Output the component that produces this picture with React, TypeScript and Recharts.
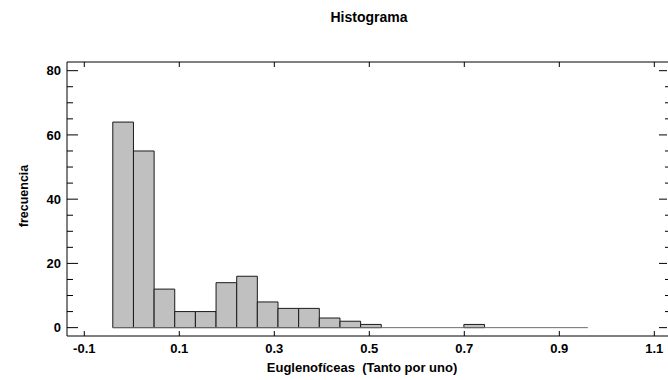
import React from 'react';
import { ComposedChart, XAxis, YAxis, Line, ReferenceArea, ReferenceLine } from 'recharts';

// Histogram bin edges (Euglenofíceas, tanto por uno) and counts
const binEdges = [
  -0.04, 0.0035, 0.047, 0.0904, 0.1339, 0.1774, 0.2209, 0.2643, 0.3078, 0.3513, 0.3948, 0.4383,
  0.4817, 0.5252, 0.5687, 0.6122, 0.6557, 0.6991, 0.7426, 0.7861, 0.8296, 0.873, 0.9165, 0.96,
];
const binCounts = [64, 55, 12, 5, 5, 14, 16, 8, 6, 6, 3, 2, 1, 0, 0, 0, 0, 1, 0, 0, 0, 0, 0];

const xTicks = [-0.1, 0.1, 0.3, 0.5, 0.7, 0.9, 1.1];
const yMajorTicks = [0, 20, 40, 60, 80];
const yMinorTicks = [5, 10, 15, 25, 30, 35, 45, 50, 55, 65, 70, 75];

const xDomain = [-0.1364, 1.1288];
const yDomain = [-2.6, 82.7];

const title = 'Histograma';
const xLabel = 'Euglenofíceas  (Tanto por uno)';
const yLabel = 'frecuencia';

const rows = binCounts.map((c, i) => ({
  lo: binEdges[i],
  hi: binEdges[i + 1],
  mid: (binEdges[i] + binEdges[i + 1]) / 2,
  count: c,
}));

const FONT = '"Liberation Sans", Arial, Helvetica, sans-serif';
const tickStyle = { fill: '#000', fontSize: 13, fontWeight: 'bold' as const, fontFamily: FONT };
const blank = () => '';

export default function App() {
  return (
    <div style={{ position: 'absolute', left: 0, top: 0, width: 668, height: 380, background: '#fff' }}>
      <ComposedChart
        width={668}
        height={380}
        data={rows}
        margin={{ top: 62, right: 0, bottom: 0, left: 0 }}
      >
        <XAxis
          xAxisId="bottom"
          type="number"
          dataKey="mid"
          domain={xDomain}
          allowDataOverflow
          ticks={xTicks}
          orientation="bottom"
          height={44}
          tickSize={-5}
          tickMargin={13}
          stroke="#000"
          tick={tickStyle}
          interval={0}
        />
        <XAxis
          xAxisId="top"
          type="number"
          dataKey="mid"
          domain={xDomain}
          allowDataOverflow
          ticks={xTicks}
          orientation="top"
          mirror
          height={30}
          tickSize={5}
          stroke="#000"
          tickFormatter={blank}
          interval={0}
        />
        <YAxis
          yAxisId="left"
          type="number"
          domain={yDomain}
          allowDataOverflow
          ticks={yMajorTicks}
          width={67}
          tickSize={-11}
          tickMargin={17}
          stroke="#000"
          tick={tickStyle}
          interval={0}
        />
        <YAxis
          yAxisId="leftMinor"
          type="number"
          domain={yDomain}
          allowDataOverflow
          ticks={yMinorTicks}
          mirror
          width={60}
          tickSize={6}
          axisLine={false}
          stroke="#000"
          tickFormatter={blank}
          interval={0}
        />
        <YAxis
          yAxisId="rightA"
          type="number"
          orientation="right"
          domain={yDomain}
          allowDataOverflow
          ticks={yMinorTicks}
          mirror
          width={1}
          tickSize={3}
          axisLine={false}
          stroke="#000"
          tickFormatter={blank}
          interval={0}
        />
        <YAxis
          yAxisId="rightB"
          type="number"
          orientation="right"
          domain={yDomain}
          allowDataOverflow
          ticks={yMajorTicks}
          mirror
          width={1}
          tickSize={8}
          axisLine={false}
          stroke="#000"
          tickFormatter={blank}
          interval={0}
        />
        <ReferenceLine
          xAxisId="bottom"
          yAxisId="left"
          segment={[{ x: binEdges[0], y: 0 }, { x: binEdges[binEdges.length - 1], y: 0 }]}
          stroke="#6e6e6e"
          strokeWidth={1}
        />
        {rows.map((r, i) =>
          r.count > 0 ? (
            <ReferenceArea
              key={i}
              xAxisId="bottom"
              yAxisId="left"
              x1={r.lo}
              x2={r.hi}
              y1={0}
              y2={r.count}
              fill="#c0c0c0"
              fillOpacity={1}
              stroke="#1a1a1a"
              strokeWidth={1}
            />
          ) : null
        )}
        <Line
          xAxisId="bottom"
          yAxisId="left"
          dataKey="count"
          stroke="none"
          dot={false}
          activeDot={false}
          isAnimationActive={false}
        />
        <text x={369} y={22} textAnchor="middle" fontFamily={FONT} fontSize={14} fontWeight="bold" fill="#000">
          {title}
        </text>
        <text
          x={362}
          y={372}
          textAnchor="middle"
          fontFamily={FONT}
          fontSize={13}
          fontWeight="bold"
          fill="#000"
          style={{ whiteSpace: 'pre' }}
        >
          {xLabel}
        </text>
        <text
          x={0}
          y={0}
          transform="translate(28, 196) rotate(-90)"
          textAnchor="middle"
          fontFamily={FONT}
          fontSize={12.5}
          fontWeight="bold"
          fill="#000"
        >
          {yLabel}
        </text>
      </ComposedChart>
    </div>
  );
}
